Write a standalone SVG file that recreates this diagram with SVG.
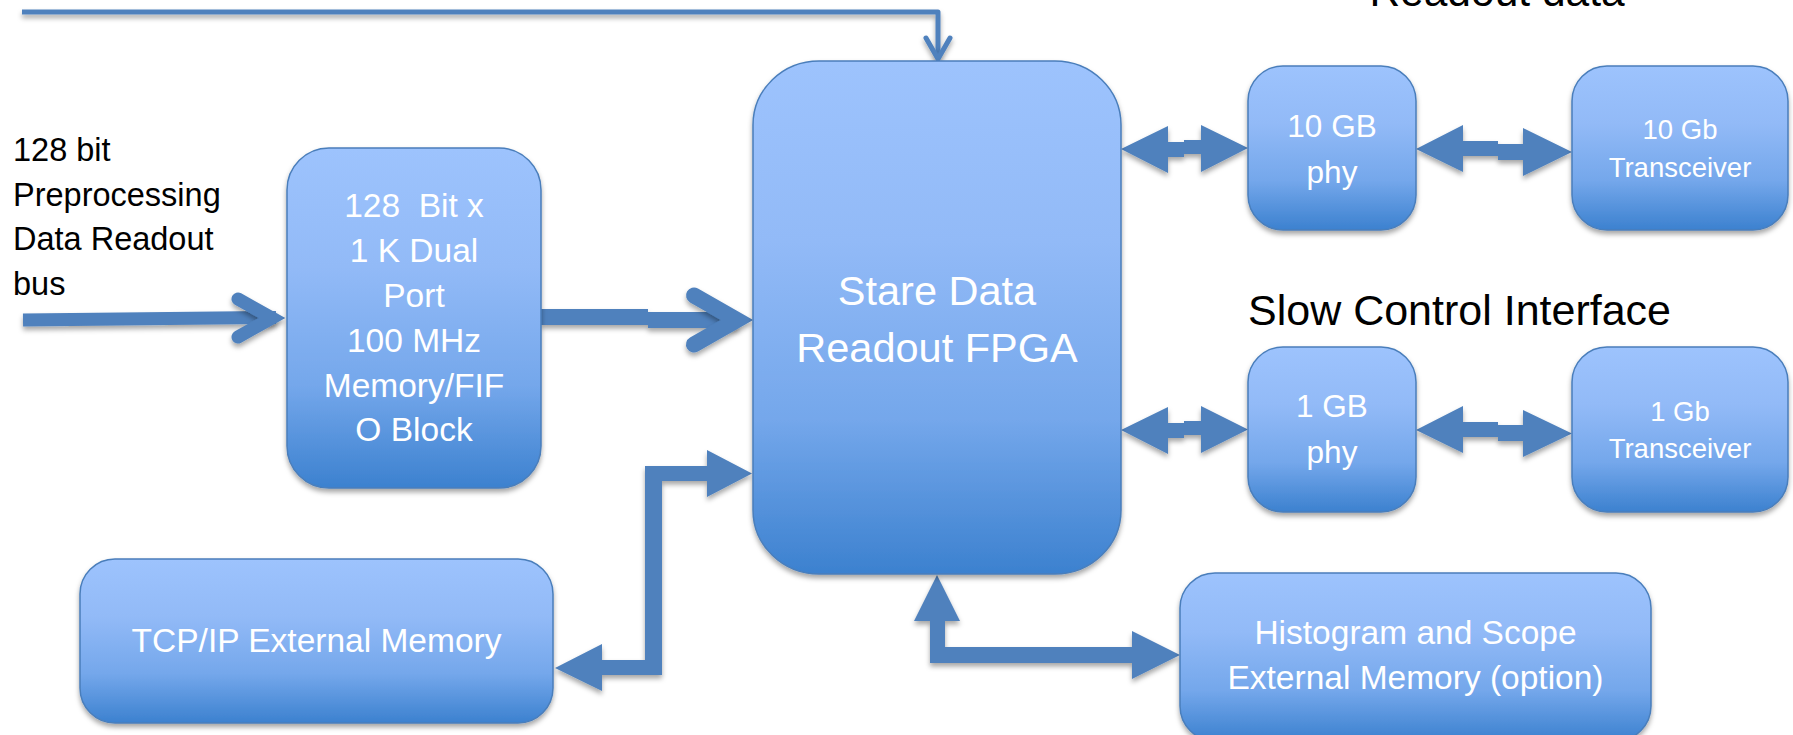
<svg xmlns="http://www.w3.org/2000/svg" width="1793" height="735" viewBox="0 0 1793 735">
  <defs>
    <linearGradient id="boxFill" x1="0" y1="0" x2="0" y2="1">
      <stop offset="0" stop-color="#9DC3FD"/>
      <stop offset="0.35" stop-color="#92BAF7"/>
      <stop offset="0.7" stop-color="#74A7EB"/>
      <stop offset="1" stop-color="#3C81CF"/>
    </linearGradient>
    <!-- canvas-sized region so thin horizontal strokes are not clipped -->
    <filter id="shadow" filterUnits="userSpaceOnUse" x="0" y="0" width="1793" height="735">
      <feDropShadow dx="0" dy="3.5" stdDeviation="2.5" flood-color="#000" flood-opacity="0.35"/>
    </filter>
    <style>
      .box { fill: url(#boxFill); stroke: #4A7EBB; stroke-width: 1.5; filter: url(#shadow); }
      .lbl { font-family: "Liberation Sans", Arial, sans-serif; fill: #FFFFFF; text-anchor: middle; }
      .ext { font-family: "Liberation Sans", Arial, sans-serif; fill: #000000; }
      .blk { fill: #4F81BD; filter: url(#shadow); }
      .ln { fill: none; stroke: #4F81BD; filter: url(#shadow); }
    </style>
  </defs>
  <rect width="1793" height="735" fill="#FFFFFF"/>

  <!-- free-standing captions -->
  <text class="ext" x="1497" y="6" font-size="42.5" text-anchor="middle">Readout data</text>
  <text class="ext" x="1248" y="325" font-size="43">Slow Control Interface</text>
  <g id="bus-label" class="ext" font-size="32.5">
    <text x="13" y="161">128 bit</text>
    <text x="13" y="206">Preprocessing</text>
    <text x="13" y="250">Data Readout</text>
    <text x="13" y="295">bus</text>
  </g>

  <!-- connectors -->
  <g id="connectors">
    <!-- top feed into the FPGA -->
    <path class="ln" d="M22,12 H938 V56" stroke-width="5" stroke-linejoin="round"/>
    <polyline class="ln" points="926,38 938,59 950,38" stroke-width="5" stroke-linecap="round" stroke-linejoin="miter"/>
    <!-- input bus into the FIFO -->
    <path class="ln" d="M23,320 L276,317.5" stroke-width="13"/>
    <polyline class="ln" points="238,299 272,318 238,337" stroke-width="13" stroke-linecap="round" stroke-linejoin="miter"/>
    <!-- FIFO to FPGA -->
    <path class="ln" d="M541,317 H648 M648,320 H738" stroke-width="16"/>
    <polyline class="ln" points="694,295.5 737,320 694,344.5" stroke-width="16" stroke-linecap="round" stroke-linejoin="miter"/>
    <!-- FPGA <-> 10 GB phy -->
    <path class="blk" d="M1121,149 L1168,126 L1168,142 L1184,142 L1184,140 L1201,140 L1201,125 L1248,148 L1201,172 L1201,154 L1184,154 L1184,157 L1168,157 L1168,173 Z"/>
    <!-- 10 GB phy <-> 10 Gb transceiver -->
    <path class="blk" d="M1416,149 L1463,125 L1463,141 L1498,141 L1498,144 L1523,144 L1523,128 L1572,152 L1523,176 L1523,160 L1498,160 L1498,156 L1463,156 L1463,172 Z"/>
    <!-- FPGA <-> 1 GB phy -->
    <path class="blk" d="M1121,430 L1168,407 L1168,423 L1184,423 L1184,421 L1201,421 L1201,406 L1248,429.5 L1201,453 L1201,435 L1184,435 L1184,438 L1168,438 L1168,454 Z"/>
    <!-- 1 GB phy <-> 1 Gb transceiver -->
    <path class="blk" d="M1416,430 L1463,406 L1463,422 L1498,422 L1498,425 L1523,425 L1523,410 L1572,433.5 L1523,457 L1523,441 L1498,441 L1498,437 L1463,437 L1463,453 Z"/>
    <!-- FPGA <-> TCP/IP external memory -->
    <path class="blk" d="M752,473.5 L707,450 L707,466 L645,466 L645,660 L602,660 L602,644 L555,668 L602,691 L602,675 L662,675 L662,481 L707,481 L707,497 Z"/>
    <!-- FPGA <-> histogram memory -->
    <path class="blk" d="M937,575 L960,621 L945,621 L945,647 L1132,647 L1132,631 L1180,655 L1132,679 L1132,663 L930,663 L930,621 L914,621 Z"/>
  </g>

  <g id="fpga">
    <rect class="box" x="753" y="61" width="368" height="513" rx="66" ry="64"/>
    <text class="lbl" x="937" y="305" font-size="41.5">Stare Data</text>
    <text class="lbl" x="937" y="362" font-size="41.5">Readout FPGA</text>
  </g>

  <g id="fifo">
    <rect class="box" x="287" y="148" width="254" height="340" rx="42"/>
    <g class="lbl" font-size="33.5">
      <text x="414" y="217" xml:space="preserve">128  Bit x</text>
      <text x="414" y="262">1 K Dual</text>
      <text x="414" y="307">Port</text>
      <text x="414" y="352">100 MHz</text>
      <text x="414" y="397">Memory/FIF</text>
      <text x="414" y="441">O Block</text>
    </g>
  </g>

  <g id="phy10">
    <rect class="box" x="1248" y="66" width="168" height="164" rx="35"/>
    <text class="lbl" x="1332" y="137" font-size="31.5">10 GB</text>
    <text class="lbl" x="1332" y="183" font-size="31.5">phy</text>
  </g>

  <g id="xcvr10">
    <rect class="box" x="1572" y="66" width="216" height="164" rx="35"/>
    <text class="lbl" x="1680" y="139" font-size="27.5">10 Gb</text>
    <text class="lbl" x="1680" y="177" font-size="27.5">Transceiver</text>
  </g>

  <g id="phy1">
    <rect class="box" x="1248" y="347" width="168" height="165" rx="35"/>
    <text class="lbl" x="1332" y="417" font-size="31.5">1 GB</text>
    <text class="lbl" x="1332" y="463" font-size="31.5">phy</text>
  </g>

  <g id="xcvr1">
    <rect class="box" x="1572" y="347" width="216" height="165" rx="35"/>
    <text class="lbl" x="1680" y="421" font-size="27.5">1 Gb</text>
    <text class="lbl" x="1680" y="458" font-size="27.5">Transceiver</text>
  </g>

  <g id="tcpip">
    <rect class="box" x="80" y="559" width="473" height="164" rx="35"/>
    <text class="lbl" x="316.5" y="652" font-size="33.5">TCP/IP External Memory</text>
  </g>

  <g id="histogram">
    <rect class="box" x="1180" y="573" width="471" height="168" rx="35"/>
    <text class="lbl" x="1415.5" y="644" font-size="33.5">Histogram and Scope</text>
    <text class="lbl" x="1415.5" y="689" font-size="33.5">External Memory (option)</text>
  </g>
</svg>
